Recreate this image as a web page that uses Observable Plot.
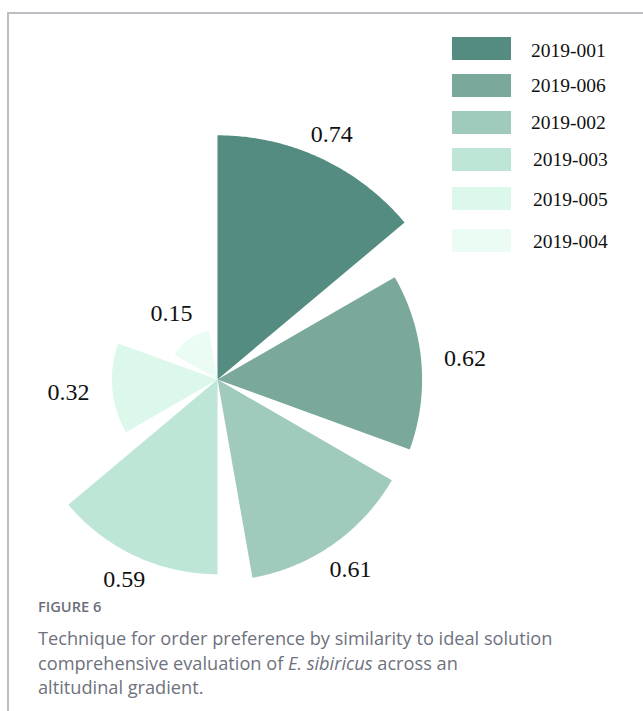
<!DOCTYPE html>
<html>
<head>
<meta charset="utf-8">
<script src="https://cdn.jsdelivr.net/npm/d3@7"></script>
<script src="https://cdn.jsdelivr.net/npm/@observablehq/plot@0.6"></script>
<style>
  html, body { margin: 0; padding: 0; background: #fff; }
  #page { position: relative; width: 643px; height: 711px; overflow: hidden; }
  #frame { position: absolute; left: 7px; top: 12px; width: 640px; height: 710px;
           border-left: 2px solid #bdbdc4; border-top: 2px solid #bdbdc4; }
  #chart { position: absolute; left: 0; top: 0; }
  .leg-sw { position: absolute; left: 452px; width: 59px; height: 23px; }
  .leg-tx { position: absolute; font-family: "Liberation Serif", "Times New Roman", serif;
            font-size: 19.5px; color: #111; line-height: 20px; }
  #cap { position: absolute; left: 38px; top: 595px; font-family: "Open Sans", sans-serif; color: #6e727e; }
  #cap .fig { font-size: 14.6px; font-weight: 600; color: #6a6e7a; line-height: 22px; }
  #cap .txt { font-size: 18.2px; line-height: 24.5px; margin-top: 9px; font-weight: 400; }
</style>
</head>
<body>
<div id="page">
  <div id="frame"></div>
  <div id="chart"></div>
  <div id="legend"></div>
  <div id="cap">
    <div class="fig">FIGURE 6</div>
    <div class="txt">Technique for order preference by similarity to ideal solution<br>comprehensive evaluation of <i>E. sibiricus</i> across an<br>altitudinal gradient.</div>
  </div>
</div>
<script>
// ---- data ----
const names  = ["2019-001", "2019-006", "2019-002", "2019-003", "2019-005", "2019-004"];
const values = [0.74, 0.62, 0.61, 0.59, 0.32, 0.15];
const colors = ["#558c81", "#7aa99c", "#a0cbbc", "#bde6d6", "#dcf8eb", "#eafcf3"];
const labels = ["0.74", "0.62", "0.61", "0.59", "0.32", "0.15"];

// ---- layout constants ----
const W = 643, H = 590;
const K = 330;            // px per unit of value
const CX = 217, CY = 379; // center in px
const slot = 60, span = 50; // degrees per slice slot, slice arc width

// build sector polygons
const poly = [];
names.forEach((n, i) => {
  const r = values[i];
  const a0 = i * slot, a1 = a0 + span;
  poly.push({name: n, x: 0, y: 0});
  for (let a = a0; a <= a1 + 1e-9; a += 0.5) {
    const t = a * Math.PI / 180;
    poly.push({name: n, x: r * Math.sin(t), y: r * Math.cos(t)});
  }
  poly.push({name: n, x: 0, y: 0});
});

// label positions: beyond outer arc at slice mid angle
const labData = names.map((n, i) => {
  const t = (i * slot + span / 2) * Math.PI / 180;
  const pad = (13 + 31 * Math.abs(Math.sin(t))) / K;
  const d = values[i] + pad;
  return {name: n, text: labels[i], x: d * Math.sin(t), y: d * Math.cos(t)};
});

const chart = Plot.plot({
  width: W, height: H,
  margin: 0,
  style: {background: "transparent", overflow: "visible"},
  x: {domain: [-CX / K, (W - CX) / K], axis: null},
  y: {domain: [-(H - CY) / K, CY / K], axis: null},
  color: {domain: names, range: colors},
  marks: [
    Plot.line(poly, {x: "x", y: "y", z: "name", fill: "name", stroke: "none", curve: "linear"}),
    Plot.text(labData, {x: "x", y: "y", text: "text", fontSize: 24,
      fontFamily: "Liberation Serif, Times New Roman, serif", fill: "#111", textAnchor: "middle"})
  ]
});
document.getElementById("chart").appendChild(chart);

// legend
const legTops = [37, 74, 111, 148, 187, 229];
const legTxtTop = [41, 76, 113, 150, 190, 232];
const legTxtX = [531, 531, 531, 533, 533, 533];
const leg = document.getElementById("legend");
names.forEach((n, i) => {
  const sw = document.createElement("div");
  sw.className = "leg-sw";
  sw.style.top = legTops[i] + "px";
  sw.style.background = colors[i];
  leg.appendChild(sw);
  const tx = document.createElement("div");
  tx.className = "leg-tx";
  tx.style.left = legTxtX[i] + "px";
  tx.style.top = legTxtTop[i] + "px";
  tx.textContent = n;
  leg.appendChild(tx);
});
</script>
</body>
</html>
